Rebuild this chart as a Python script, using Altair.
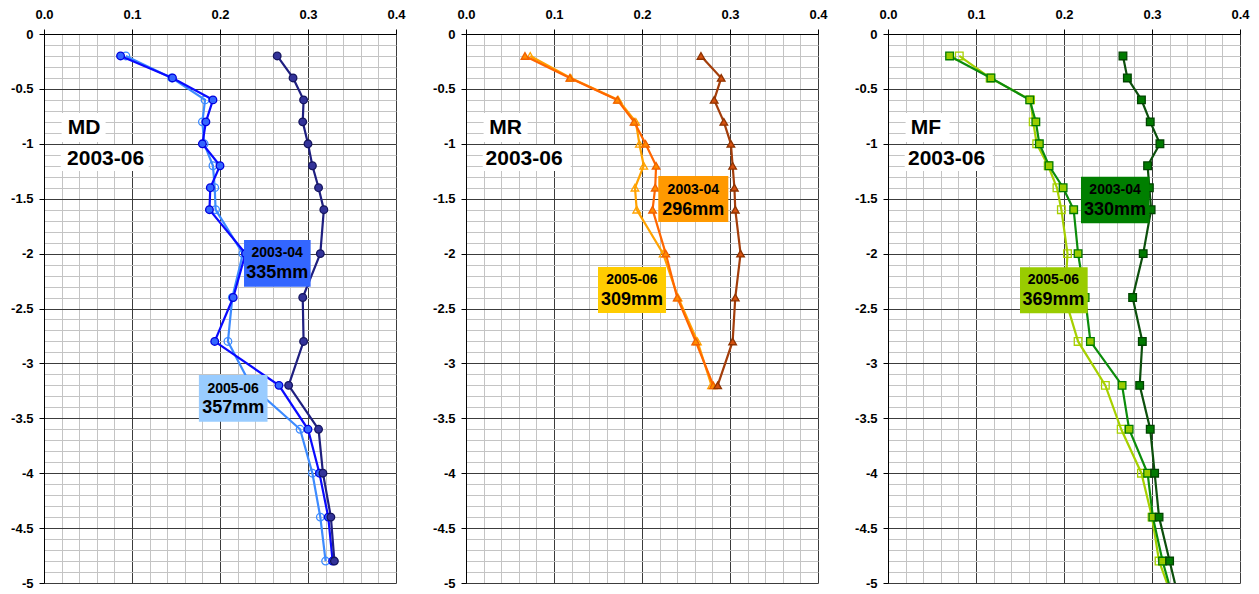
import altair as alt
import pandas as pd

# Depths (m) of the soil moisture readings
DEPTHS = [-0.2, -0.4, -0.6, -0.8, -1.0, -1.2, -1.4, -1.6,
          -2.0, -2.4, -2.8, -3.2, -3.6, -4.0, -4.4, -4.8]
DEPTHS_MR = DEPTHS[:12]
DEPTHS_MF = DEPTHS + [-5.2]

# Volumetric water content profiles, site MD
md_2003_06 = [0.265, 0.283, 0.295, 0.294, 0.300, 0.305, 0.312, 0.318,
              0.314, 0.294, 0.295, 0.278, 0.312, 0.317, 0.326, 0.330]
md_2003_04 = [0.087, 0.146, 0.192, 0.184, 0.180, 0.200, 0.189, 0.188,
              0.229, 0.215, 0.194, 0.267, 0.300, 0.313, 0.323, 0.328]
md_2005_06 = [0.093, 0.145, 0.183, 0.180, 0.182, 0.192, 0.194, 0.195,
              0.226, 0.214, 0.209, 0.235, 0.291, 0.305, 0.314, 0.320]

# Site MR
mr_2003_06 = [0.267, 0.290, 0.282, 0.293, 0.301, 0.303, 0.305, 0.306,
              0.312, 0.306, 0.303, 0.286]
mr_2003_04 = [0.067, 0.118, 0.172, 0.191, 0.204, 0.216, 0.215, 0.212,
              0.227, 0.240, 0.261, 0.281]
mr_2005_06 = [0.073, 0.119, 0.173, 0.193, 0.197, 0.202, 0.192, 0.194,
              0.224, 0.241, 0.263, 0.279]

# Site MF
mf_2003_06 = [0.267, 0.272, 0.288, 0.298, 0.309, 0.295, 0.297, 0.299,
              0.290, 0.278, 0.289, 0.286, 0.298, 0.303, 0.308, 0.320, 0.332]
mf_2003_04 = [0.070, 0.117, 0.161, 0.168, 0.172, 0.183, 0.199, 0.211,
              0.216, 0.224, 0.230, 0.266, 0.274, 0.295, 0.301, 0.312, 0.326]
mf_2005_06 = [0.081, 0.116, 0.162, 0.165, 0.169, 0.182, 0.192, 0.197,
              0.204, 0.201, 0.216, 0.247, 0.265, 0.288, 0.300, 0.308, 0.326]

SITES = ["MD", "MR", "MF"]
BASE_PERIOD = "2003-06"
PERIOD_A = "2003-04"
PERIOD_B = "2005-06"
RAIN_A = ["335mm", "296mm", "330mm"]
RAIN_B = ["357mm", "309mm", "369mm"]

X_MAJOR = [0.0, 0.1, 0.2, 0.3, 0.4]
X_MINOR = [round(i * 0.02, 2) for i in range(21)]
Y_MAJOR = [round(-i * 0.5, 1) for i in range(11)]
Y_MINOR = [round(-i * 0.1, 1) for i in range(51)]

FONT = "Liberation Sans"
W, H = 352, 549

# styling per site: (line, fill, stroke) for base, period A, period B; shape; box colours
STYLES = {
    "MD": dict(shape="circle",
               base=("#1f1f80", "#333399", "#14145e"),
               a=("#0a0aff", "#3366ff", "#0000dd"),
               b=("#3d8bff", None, "#3d8bff"),
               box_a="#3366ff", box_b="#99ccff"),
    "MR": dict(shape="triangle-up",
               base=("#a33d0a", "#d4500f", "#8f3300"),
               a=("#ff6600", "#ff8a00", "#f06000"),
               b=("#ffa200", None, "#ffa200"),
               box_a="#ff9900", box_b="#ffcc00"),
    "MF": dict(shape="square",
               base=("#0c4f0c", "#007a00", "#004400"),
               a=("#0b8c0b", "#99cc00", "#007a00"),
               b=("#a6d000", None, "#a6d000"),
               box_a="#007f00", box_b="#99cc00"),
}

# annotation placement in data units: box x1, x2, y1, y2, text x, line1 y, line2 y
BOX_A = {"MD": (0.2273, 0.3030, -1.876, -2.302, 0.265, -1.998, -2.174),
         "MR": (0.2185, 0.2981, -1.293, -1.712, 0.2583, -1.421, -1.600),
         "MF": (0.2193, 0.2970, -1.300, -1.724, 0.258, -1.421, -1.603)}
BOX_B = {"MD": (0.176, 0.254, -3.106, -3.531, 0.215, -3.229, -3.406),
         "MR": (0.150, 0.2273, -2.122, -2.541, 0.1886, -2.240, -2.423),
         "MF": (0.150, 0.2269, -2.125, -2.544, 0.188, -2.240, -2.427)}
NAME_TEXT_X = {"MD": 0.0455, "MR": 0.045, "MF": 0.043}
DATE_TEXT_X = {"MD": 0.070, "MR": 0.066, "MF": 0.0665}

xscale = alt.Scale(domain=[0, 0.4], nice=False, zero=False)
yscale = alt.Scale(domain=[-5, 0], nice=False, zero=False)

y_label_expr = "datum.value == 0 ? '0' : '-' + format(abs(datum.value), '~g')"

minor_x = alt.Axis(orient="top", values=X_MINOR, grid=True, gridColor="#c4c4c4",
                   gridWidth=1, labels=False, ticks=False, domain=False, title=None)
minor_y = alt.Axis(orient="left", values=Y_MINOR, grid=True, gridColor="#c4c4c4",
                   gridWidth=1, labels=False, ticks=False, domain=False, title=None)
major_x = alt.Axis(orient="top", values=X_MAJOR, grid=True, gridColor="#3c3c3c",
                   gridWidth=1, format=".1f", title=None, domainColor="#000000",
                   tickColor="#000000", tickSize=5, labelPadding=8,
                   labelFont=FONT, labelFontSize=13, labelFontWeight="bold",
                   labelColor="#000000", labelFlush=False, labelOverlap=False,
                   minExtent=26, maxExtent=26)
major_y = alt.Axis(orient="left", values=Y_MAJOR, grid=True, gridColor="#3c3c3c",
                   gridWidth=1, labelExpr=y_label_expr, title=None,
                   domainColor="#000000", tickColor="#000000", tickSize=5,
                   labelPadding=6, labelFont=FONT, labelFontSize=13,
                   labelFontWeight="bold", labelColor="#000000",
                   labelOverlap=False, minExtent=36, maxExtent=36)


def series_frame(depths, values):
    return pd.DataFrame({"depth": depths[:len(values)], "theta": values})


def series_layers(df, style, shape, xaxis=None, yaxis=None, paxis=(None, None)):
    line_c, fill_c, stroke_c = style
    line = alt.Chart(df).mark_line(color=line_c, strokeWidth=2.2, clip=True).encode(
        x=alt.X("theta:Q", scale=xscale, axis=xaxis),
        y=alt.Y("depth:Q", scale=yscale, axis=yaxis),
        order="depth_order:Q",
    ).transform_calculate(depth_order="-datum.depth")
    pt_kwargs = dict(shape=shape, size=58, strokeWidth=1.3, clip=True,
                     stroke=stroke_c, opacity=1)
    if fill_c is None:
        pt_kwargs.update(filled=False, fill="transparent")
    else:
        pt_kwargs.update(filled=True, fill=fill_c)
    pts = alt.Chart(df).mark_point(**pt_kwargs).encode(
        x=alt.X("theta:Q", scale=xscale, axis=paxis[0]),
        y=alt.Y("depth:Q", scale=yscale, axis=paxis[1]),
    )
    return [line, pts]


def box_layers(spec, period, rain, color):
    x1, x2, y1, y2, tx, ty1, ty2 = spec
    rect = alt.Chart(pd.DataFrame({"x1": [x1], "x2": [x2], "y1": [y1], "y2": [y2]})).mark_rect(
        color=color, opacity=1).encode(
        x=alt.X("x1:Q", scale=xscale, axis=None), x2="x2:Q",
        y=alt.Y("y1:Q", scale=yscale, axis=None), y2="y2:Q")
    t1 = alt.Chart(pd.DataFrame({"x": [tx], "y": [ty1], "t": [period]})).mark_text(
        font=FONT, fontSize=14, fontWeight="bold", color="#000000",
        align="center", baseline="middle").encode(
        x=alt.X("x:Q", scale=xscale, axis=None),
        y=alt.Y("y:Q", scale=yscale, axis=None), text="t:N")
    t2 = alt.Chart(pd.DataFrame({"x": [tx], "y": [ty2], "t": [rain]})).mark_text(
        font=FONT, fontSize=18, fontWeight="bold", color="#000000",
        align="center", baseline="middle").encode(
        x=alt.X("x:Q", scale=xscale, axis=None),
        y=alt.Y("y:Q", scale=yscale, axis=None), text="t:N")
    return [rect, t1, t2]


def title_layers(site):
    boxes = pd.DataFrame({"x1": [0.020, 0.019], "x2": [0.070, 0.119],
                          "y1": [-0.720, -1.011], "y2": [-0.984, -1.248]})
    rect = alt.Chart(boxes).mark_rect(color="#ffffff", opacity=1).encode(
        x=alt.X("x1:Q", scale=xscale, axis=None), x2="x2:Q",
        y=alt.Y("y1:Q", scale=yscale, axis=None), y2="y2:Q")
    texts = pd.DataFrame({"x": [NAME_TEXT_X[site], DATE_TEXT_X[site]],
                          "y": [-0.852, -1.138], "t": [site, BASE_PERIOD]})
    txt = alt.Chart(texts).mark_text(
        font=FONT, fontSize=21, fontWeight="bold", color="#000000",
        align="center", baseline="middle").encode(
        x=alt.X("x:Q", scale=xscale, axis=None),
        y=alt.Y("y:Q", scale=yscale, axis=None), text="t:N")
    return [rect, txt]


def panel(i, site, depths, base_vals, a_vals, b_vals):
    st = STYLES[site]
    layers = []
    # period B first (drawn lowest); its layers carry the grid axes
    layers += series_layers(series_frame(depths, b_vals), st["b"], st["shape"],
                            xaxis=minor_x, yaxis=minor_y, paxis=(major_x, major_y))
    layers += series_layers(series_frame(depths, a_vals), st["a"], st["shape"])
    layers += series_layers(series_frame(depths, base_vals), st["base"], st["shape"])
    layers += title_layers(site)
    layers += box_layers(BOX_A[site], PERIOD_A, RAIN_A[i], st["box_a"])
    layers += box_layers(BOX_B[site], PERIOD_B, RAIN_B[i], st["box_b"])
    return alt.layer(*layers).resolve_axis(x="independent", y="independent").properties(
        width=W, height=H)


p_md = panel(0, "MD", DEPTHS, md_2003_06, md_2003_04, md_2005_06)
p_mr = panel(1, "MR", DEPTHS_MR, mr_2003_06, mr_2003_04, mr_2005_06)
p_mf = panel(2, "MF", DEPTHS_MF, mf_2003_06, mf_2003_04, mf_2005_06)

chart = alt.hconcat(p_md, p_mr, p_mf, spacing=70, bounds="flush").properties(
    padding={"left": 8, "top": 8, "right": 5, "bottom": 5},
    background="#ffffff",
).configure_view(stroke=None)

chart.save("out.html", embed_options={"renderer": "svg", "actions": False})
